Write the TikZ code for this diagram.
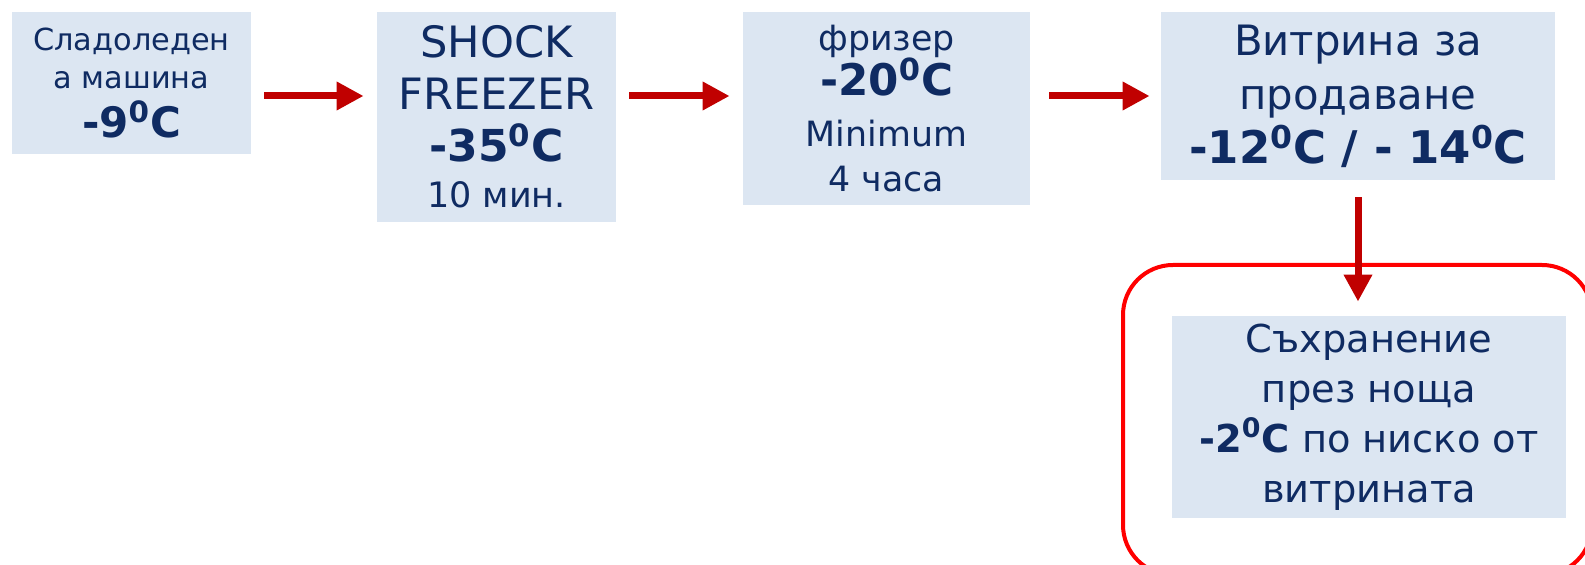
\documentclass[tikz,border=0pt]{standalone}
\usepackage{fontspec}
\setmainfont{DejaVu Sans}
\usepackage{xcolor}
\usetikzlibrary{arrows.meta}
\definecolor{navy}{HTML}{0F2B62}
\definecolor{boxblue}{HTML}{DCE6F2}
\definecolor{darkred}{HTML}{C00000}

\begin{document}
\begin{tikzpicture}
                    [x=0.5pt, y=-0.5pt,
                     box/.style={fill=boxblue, text=navy, align=center, inner sep=0pt},
                     arr/.style={draw=darkred, line width=3.5pt, -{Triangle[width=13.5pt,length=13.5pt]}, shorten <=6.5pt, shorten >=6.5pt}]
                    \useasboundingbox (0,0) rectangle (1585,565);
                    \begin{scope}
                    \clip (0,0) rectangle (1585,565);
                    \node[draw=red, line width=2pt, rounded corners=25pt, minimum width=234.5pt, minimum height=155pt] (night) at (1357.5,420) {};
                    \end{scope}
                    \node[box, minimum width=119.5pt, minimum height=71pt, font=\fontsize{15.2}{19.3}\selectfont] (mach) at (131.5,83)
                      {Сладоледен\\а машина\\[5pt]{\bfseries\fontsize{21}{22}\selectfont -9\textsuperscript{0}C}};
                    \node[box, minimum width=119.5pt, minimum height=105pt, font=\fontsize{21.6}{26}\selectfont] (shock) at (496.5,117)
                      {SHOCK\\FREEZER\\{\bfseries\fontsize{22}{26}\selectfont -35\textsuperscript{0}C}\\[-3pt]{\fontsize{17.5}{26}\selectfont 10 мин.}};
                    \node[box, minimum width=143.5pt, minimum height=96.5pt, font=\fontsize{17.4}{22.5}\selectfont] (frz) at (886.5,108.5)
                      {фризер\\{\bfseries\fontsize{21.8}{23}\selectfont -20\textsuperscript{0}C}\\[3pt]Minimum\\4 часа};
                    \node[box, minimum width=197pt, minimum height=84pt, font=\fontsize{20.9}{27}\selectfont] (vitr) at (1358,96)
                      {Витрина за\\продаване\\{\bfseries\fontsize{22.5}{27}\selectfont -12\textsuperscript{0}C / - 14\textsuperscript{0}C}};
                    \node[box, minimum width=197pt, minimum height=101pt, font=\fontsize{19.2}{25}\selectfont] (store) at (1369,417)
                      {Съхранение\\през нощa\\{\bfseries -2\textsuperscript{0}C} по ниско от\\витрината};
                    \draw[arr] (mach.east |- vitr.west) -- (shock.west |- vitr.west);
                    \draw[arr] (shock.east |- vitr.west) -- (frz.west |- vitr.west);
                    \draw[arr, shorten <=9.5pt, shorten >=5.5pt] (frz.east |- vitr.west) -- (vitr.west);
                    \draw[arr, shorten <=8.5pt, shorten >=7pt] (vitr.south) -- (vitr.south |- store.north);
                \end{tikzpicture}
\end{document}
